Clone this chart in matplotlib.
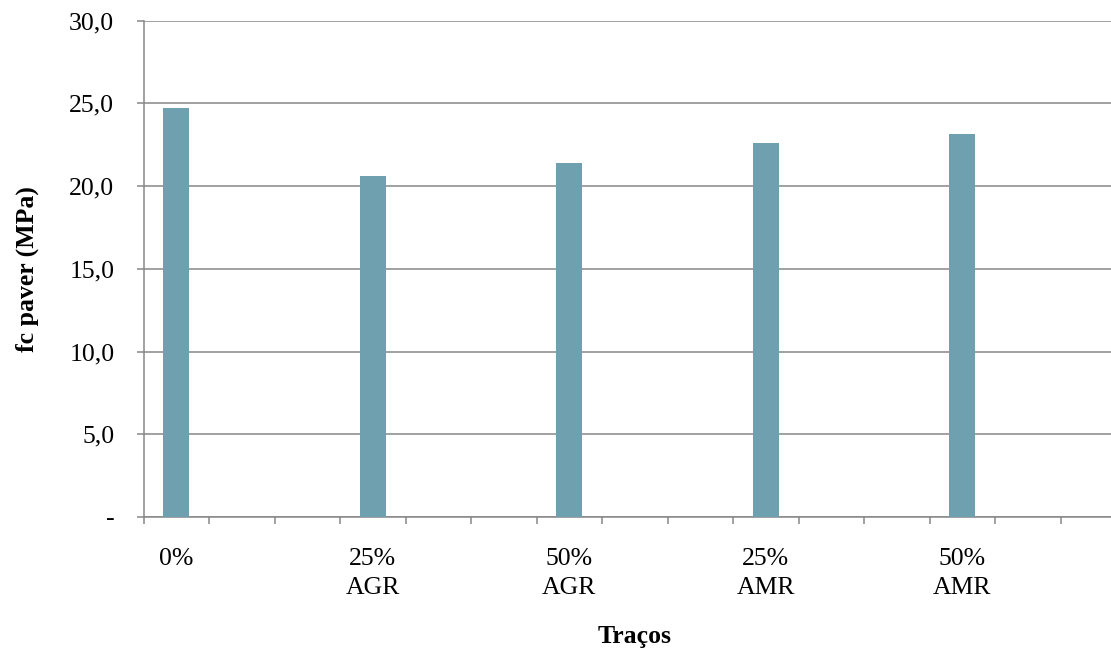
import matplotlib.pyplot as plt
import numpy as np

plt.rcParams['font.family'] = ['Liberation Serif', 'DejaVu Serif']

# compressive strength of pavers per mix
tracos = ['0%', '25%\nAGR', '50%\nAGR', '25%\nAMR', '50%\nAMR']
fc_paver = [24.75, 20.6, 21.4, 22.6, 23.15]
y_ticks = [0, 5, 10, 15, 20, 25, 30]
y_labels = ['-', '5,0', '10,0', '15,0', '20,0', '25,0', '30,0']

# each mix sits in the first of three category slots
n_slots = 15
slots = [3 * i for i in range(len(tracos))]

grey = '#878787'
fig = plt.figure(figsize=(11.11, 6.53), dpi=100)
ax = fig.add_axes([0.1292, 0.2083, 0.8843, 0.760])

centers = np.array(slots) + 0.5
ax.bar(centers, fc_paver, width=0.4, color='#6FA0AF', zorder=3)

ax.set_xlim(0, n_slots)
ax.set_ylim(0, 30)
ax.set_yticks(y_ticks)
ax.set_yticklabels(y_labels, fontsize=18.5)
ax.yaxis.grid(True, color=grey, lw=1.1, zorder=0)

ax.set_xticks(centers)
ax.set_xticklabels(tracos, fontsize=18.5, linespacing=1.45)
ax.set_xticks(np.arange(n_slots + 1), minor=True)
ax.tick_params(axis='x', which='major', length=0, pad=22)
ax.tick_params(axis='x', which='minor', length=5, width=1.1, color=grey)
ax.tick_params(axis='y', length=5, width=1.1, color=grey, pad=16)

for side in ['top', 'right']:
    ax.spines[side].set_visible(False)
for side in ['left', 'bottom']:
    ax.spines[side].set_color(grey)
    ax.spines[side].set_linewidth(1.1)

fig.text(27 / 1111, 1 - 269 / 653, 'fc paver (MPa)', rotation=90,
         ha='center', va='center', fontsize=18.5, fontweight='bold')
fig.text(635 / 1111, 1 - 643 / 653, 'Traços', ha='center', va='baseline',
         fontsize=18.5, fontweight='bold')

plt.savefig('out.png', dpi=100)
